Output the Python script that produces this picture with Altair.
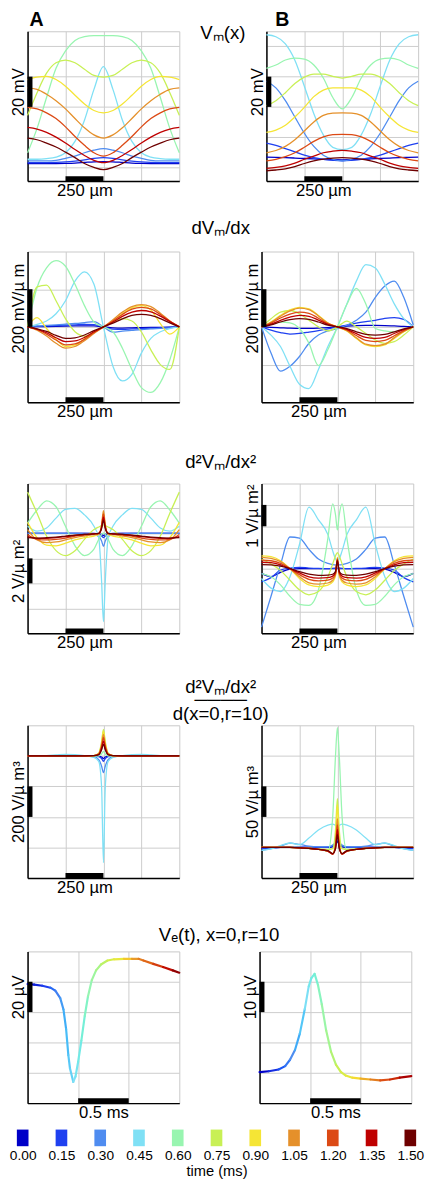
import altair as alt
import pandas as pd

FONT = "Liberation Sans"
GRID = "#cccccc"

TIMES = [0.00, 0.15, 0.30, 0.45, 0.60, 0.75, 0.90, 1.05, 1.20, 1.35, 1.50]
COLORS = ["#0000c8", "#1f40f0", "#4f8cf0", "#7fe0f5", "#98f5b0", "#c8f055",
          "#f5e535", "#e5902a", "#dc4a15", "#bf0000", "#6e0000"]
TIME_LABELS = ["0.00", "0.15", "0.30", "0.45", "0.60", "0.75", "0.90", "1.05", "1.20", "1.35", "1.50"]

X17 = [-500, -437.5, -375, -312.5, -250, -187.5, -125, -62.5, 0,
       62.5, 125, 187.5, 250, 312.5, 375, 437.5, 500]
X21 = [-500, -437.5, -375, -312.5, -250, -187.5, -125, -62.5, -31, -12, 0,
       12, 31, 62.5, 125, 187.5, 250, 312.5, 375, 437.5, 500]

# ---- Vm(x), mV ----
VM_A = [
    [2.6, 2.6, 2.6, 2.6, 2.7, 2.9, 3.3, 3.7, 3.9, 3.7, 3.3, 2.9, 2.7, 2.6, 2.6, 2.6, 2.6],
    [3.2, 3.2, 3.2, 3.3, 3.6, 4.2, 5.0, 6.0, 6.5, 6.0, 5.0, 4.2, 3.6, 3.3, 3.2, 3.2, 3.2],
    [4.3, 4.3, 4.3, 4.7, 6.0, 7.5, 9.7, 11.4, 12.4, 11.4, 9.7, 7.5, 6.0, 4.7, 4.3, 4.3, 4.3],
    [5.4, 5.4, 5.8, 6.8, 9.7, 17.2, 31.2, 51.6, 66.6, 51.6, 31.2, 17.2, 9.7, 6.8, 5.8, 5.4, 5.4],
    [9.7, 25.8, 46.2, 65.5, 77.0, 83.9, 86.4, 87.1, 87.1, 87.1, 86.4, 83.9, 77.0, 65.5, 46.2, 25.8, 9.7],
    [34.4, 49.4, 62.3, 69.2, 71.0, 69.2, 64.9, 60.8, 59.7, 60.8, 64.9, 69.2, 71.0, 69.2, 62.3, 49.4, 34.4],
    [58.1, 59.7, 60.2, 58.1, 53.7, 47.7, 41.9, 37.6, 36.1, 37.6, 41.9, 47.7, 53.7, 58.1, 60.2, 59.7, 58.1],
    [52.6, 51.6, 48.4, 44.1, 38.7, 32.3, 26.2, 21.5, 19.4, 21.5, 26.2, 32.3, 38.7, 44.1, 48.4, 51.6, 52.6],
    [39.7, 38.7, 36.1, 32.3, 26.8, 20.4, 14.6, 9.7, 7.5, 9.7, 14.6, 20.4, 26.8, 32.3, 36.1, 38.7, 39.7],
    [26.4, 25.3, 23.2, 20.0, 16.1, 11.8, 7.9, 4.7, 3.2, 4.7, 7.9, 11.8, 16.1, 20.0, 23.2, 25.3, 26.4],
    [19.4, 18.3, 16.1, 13.5, 10.1, 6.5, 2.6, 0.0, -1.5, 0.0, 2.6, 6.5, 10.1, 13.5, 16.1, 18.3, 19.4],
]
VM_B = [
    [6.8, 6.7, 6.5, 6.2, 5.9, 5.6, 5.3, 5.1, 5.0, 5.1, 5.3, 5.6, 5.9, 6.2, 6.5, 6.7, 6.8],
    [16.1, 14.6, 12.4, 10.3, 8.1, 6.5, 5.4, 4.7, 4.3, 4.7, 5.4, 6.5, 8.1, 10.3, 12.4, 14.6, 16.1],
    [57.0, 52.6, 44.1, 33.3, 22.6, 13.9, 8.1, 5.4, 4.3, 5.4, 8.1, 13.9, 22.6, 33.3, 44.1, 52.6, 57.0],
    [87.7, 86.4, 81.7, 70.9, 53.7, 35.5, 21.5, 13.3, 11.8, 13.3, 21.5, 35.5, 53.7, 70.9, 81.7, 86.4, 87.7],
    [65.5, 67.7, 71.0, 72.2, 71.6, 67.7, 59.1, 46.2, 38.7, 46.2, 59.1, 67.7, 71.6, 72.2, 71.0, 67.7, 65.5],
    [40.8, 44.1, 49.4, 55.5, 59.7, 61.7, 61.7, 60.2, 59.1, 60.2, 61.7, 61.7, 59.7, 55.5, 49.4, 44.1, 40.8],
    [23.2, 24.7, 27.9, 33.3, 39.7, 46.8, 51.1, 52.6, 52.6, 52.6, 51.1, 46.8, 39.7, 33.3, 27.9, 24.7, 23.2],
    [9.7, 11.2, 13.9, 18.3, 24.1, 30.1, 34.4, 35.9, 36.1, 35.9, 34.4, 30.1, 24.1, 18.3, 13.9, 11.2, 9.7],
    [4.3, 5.4, 7.1, 9.7, 13.3, 17.2, 20.2, 21.7, 21.9, 21.7, 20.2, 17.2, 13.3, 9.7, 7.1, 5.4, 4.3],
    [-0.6, 0.0, 1.0, 2.8, 5.4, 7.5, 9.7, 10.7, 11.2, 10.7, 9.7, 7.5, 5.4, 2.8, 1.0, 0.0, -0.6],
    [-2.2, -1.7, -0.9, 0.6, 2.6, 4.3, 5.5, 6.2, 6.5, 6.2, 5.5, 4.3, 2.6, 0.6, -0.9, -1.7, -2.2],
]

# ---- dVm/dx ----
DV_A = [
    [0, 1, 2, 3, 4, 5, 6, 5, 0, -5, -6, -5, -4, -3, -2, -1, 0],
    [0, 3, 5, 7, 9, 11, 13, 12, 0, -12, -13, -11, -9, -7, -5, -3, 0],
    [0, 5, 8, 11, 14, 18, 22, 28, 0, -28, -22, -18, -14, -11, -8, -5, 0],
    [0, 13.9, 31.3, 69.6, 139, 243, 292, 226, 0, -208.7, -287, -252, -139, -61, -26, -8.7, 0],
    [0, 208.7, 313, 351.3, 321.7, 226, 113, 26, 0, -26, -113, -226, -322, -348, -296, -174, 0],
    [0, 212, 222, 139, 43.5, -26, -48.7, -31.3, 0, 26, 43.5, 31.3, -26, -121.7, -200, -226, 0],
    [0, 48.7, -8.7, -66, -104, -97, -62.6, -26, 0, 31.3, 69.6, 101, 113, 90, 17.4, -38, 0],
    [0, -17.4, -48.7, -87, -113, -104, -73, -34.8, 0, 38.3, 78.3, 108, 118, 108, 73, 31.3, 0],
    [0, -13.9, -38.3, -69.6, -95.6, -90.4, -66, -31.3, 0, 31.3, 66, 94, 104, 95.6, 66, 31.3, 0],
    [0, -12.2, -31.3, -57.4, -78.3, -74.8, -55.7, -26, 0, 26, 55.7, 78.3, 87, 80, 57.4, 27.8, 0],
    [0, -10, -24, -45, -61, -58, -43, -20, 0, 20, 43, 61, 66, 61, 44, 21, 0],
]
DV_B = [
    [0, -3, -5, -7, -8, -8, -7, -4, 0, 4, 7, 8, 8, 7, 5, 3, 0],
    [0, -17, -30, -38, -35, -28, -20, -10, 0, 10, 20, 28, 35, 45, 49, 40, 0],
    [0, -139, -235, -209, -157, -87, -43.5, -21, -8.7, 8.7, 35, 78, 157, 217, 243, 157, 10],
    [0, -43.5, -104, -209, -304, -327, -226, -104, 0, 122, 243, 330, 313, 226, 122, 43.5, 0],
    [0, 13.9, 26, 20.9, -8.7, -87, -205, -120, 0, 120, 205, 122, -8.7, -20.9, -26, -13.9, 0],
    [0, 43.5, 78, 87, 70, 35, 0, -21, 0, 31, 0, -35, -70, -87, -78, -43.5, 0],
    [0, 26, 61, 90, 104, 96, 61, 21, 0, -21, -61, -96, -104, -96, -61, -26, 0],
    [0, 24, 57, 85, 100, 92, 58, 20, 0, -20, -58, -92, -100, -92, -57, -24, 0],
    [0, 20, 47, 68, 78, 72, 46, 16, 0, -16, -46, -72, -78, -72, -47, -20, 0],
    [0, 15, 35, 52, 61, 56, 36, 13, 0, -13, -36, -56, -61, -56, -35, -15, 0],
    [0, 11, 26, 38, 44, 40, 26, 9, 0, -9, -26, -40, -44, -40, -26, -11, 0],
]

# ---- d2Vm/dx2 ----
D2_A = [
    [0, 0, 0, 0, 0, 0, 0, 0, -0.03, -0.08, -0.16, -0.08, -0.03, 0, 0, 0, 0, 0, 0, 0, 0],
    [0, 0, 0, 0, 0, 0, 0, -0.02, -0.08, -0.2, -0.34, -0.2, -0.08, -0.02, 0, 0, 0, 0, 0, 0, 0],
    [0, 0, 0, 0, 0, 0, -0.03, -0.1, -0.25, -0.6, -1.04, -0.6, -0.25, -0.1, -0.03, 0, 0, 0, 0, 0, 0],
    [0.57, 0.18, 0.44, 1.23, 1.93, 2.01, 1.49, 0.57, -0.34, -3.86, -7.07, -3.86, -0.34, 0.57, 1.49, 2.01, 1.93, 1.23, 0.44, 0.18, 0.57],
    [0.83, 1.88, 2.61, 2.14, 0.57, -0.99, -1.77, -1.25, -0.47, -0.08, 0.05, -0.08, -0.47, -1.25, -1.77, -0.99, 0.57, 2.14, 2.61, 1.88, 0.83],
    [3.31, 1.62, -0.21, -1.38, -1.77, -1.38, -0.47, 0.31, 0.52, 0.63, 0.68, 0.63, 0.52, 0.31, -0.47, -1.38, -1.77, -1.38, -0.21, 1.62, 3.31],
    [0.89, -0.34, -0.94, -0.99, -0.78, -0.52, -0.34, -0.21, -0.08, 0.57, 1.62, 0.57, -0.08, -0.21, -0.34, -0.52, -0.78, -0.99, -0.94, -0.34, 0.89],
    [0.31, -0.52, -0.73, -0.68, -0.52, -0.34, -0.21, -0.10, -0.03, 0.70, 1.83, 0.70, -0.03, -0.10, -0.21, -0.34, -0.52, -0.68, -0.73, -0.52, 0.31],
    [-0.08, -0.47, -0.52, -0.47, -0.37, -0.21, -0.13, -0.05, 0, 0.57, 1.56, 0.57, 0, -0.05, -0.13, -0.21, -0.37, -0.47, -0.52, -0.47, -0.08],
    [-0.26, -0.39, -0.39, -0.34, -0.26, -0.16, -0.08, -0.03, 0, 0.5, 1.3, 0.5, 0, -0.03, -0.08, -0.16, -0.26, -0.34, -0.39, -0.39, -0.26],
    [-0.34, -0.37, -0.34, -0.29, -0.21, -0.13, -0.08, -0.03, 0, 0.39, 1.04, 0.39, 0, -0.03, -0.08, -0.13, -0.21, -0.29, -0.34, -0.37, -0.34],
]
D2_B = [
    [-0.2, -0.35, -0.15, 0, 0.02, 0.02, 0.02, 0.02, 0.03, 0.04, 0.05, 0.04, 0.03, 0.02, 0.02, 0.02, 0.02, 0, -0.15, -0.35, -0.2],
    [-0.6, -0.4, -0.05, 0.05, 0.08, 0.05, 0.03, 0.02, 0.02, 0.02, 0.02, 0.02, 0.02, 0.02, 0.03, 0.05, 0.08, 0.05, -0.05, -0.4, -0.6],
    [-2.71, -1.27, 0.21, 1.5, 1.45, 0.92, 0.47, 0.27, 0.21, 0.20, 0.20, 0.20, 0.21, 0.27, 0.47, 0.92, 1.45, 1.5, 0.21, -1.27, -2.71],
    [-0.44, -0.89, -1.05, -0.36, 1.15, 2.9, 2.3, 1.61, 0.85, 0.47, 0.36, 0.47, 0.85, 1.61, 2.3, 2.9, 1.15, -0.36, -1.05, -0.89, -0.44],
    [-0.21, -0.36, -0.74, -1.27, -1.65, -1.70, -0.97, 1.45, 3.05, 2.52, 1.83, 2.52, 3.05, 1.45, -0.97, -1.70, -1.65, -1.27, -0.74, -0.36, -0.21],
    [0.47, 0.24, -0.06, -0.52, -0.97, -1.20, -1.05, -0.36, 0.24, 0.62, 0.77, 0.62, 0.24, -0.36, -1.05, -1.20, -0.97, -0.52, -0.06, 0.24, 0.47],
    [0.62, 0.58, 0.39, 0.02, -0.44, -0.74, -0.82, -0.75, -0.6, -0.3, 0.55, -0.3, -0.6, -0.75, -0.82, -0.74, -0.44, 0.02, 0.39, 0.58, 0.62],
    [0.55, 0.50, 0.35, 0.02, -0.36, -0.64, -0.70, -0.65, -0.52, -0.25, 0.52, -0.25, -0.52, -0.65, -0.70, -0.64, -0.36, 0.02, 0.35, 0.50, 0.55],
    [0.42, 0.39, 0.27, 0.02, -0.26, -0.48, -0.55, -0.52, -0.42, -0.2, 0.47, -0.2, -0.42, -0.52, -0.55, -0.48, -0.26, 0.02, 0.27, 0.39, 0.42],
    [0.32, 0.30, 0.20, 0.02, -0.18, -0.36, -0.42, -0.40, -0.33, -0.15, 0.42, -0.15, -0.33, -0.40, -0.42, -0.36, -0.18, 0.02, 0.20, 0.30, 0.32],
    [0.21, 0.20, 0.14, 0.02, -0.12, -0.24, -0.29, -0.28, -0.24, -0.1, 0.38, -0.1, -0.24, -0.28, -0.29, -0.24, -0.12, 0.02, 0.14, 0.20, 0.21],
]

# ---- d2Vm/dx2 / d(x=0,r=10) ----
R_A = [
    [0, 0, 0, 0, 0, 0, 0, 0, -2, -8, -18, -8, -2, 0, 0, 0, 0, 0, 0, 0, 0],
    [0, 0, 0, 0, 0, 0, 0, -1, -6, -18, -36, -18, -6, -1, 0, 0, 0, 0, 0, 0, 0],
    [0, 0, 0, 0, 0, 0, -1, -5, -25, -68, -110, -68, -25, -5, -1, 0, 0, 0, 0, 0, 0],
    [0, 0, 2, 6, 10, 8, 2, -10, -36, -207, -700, -207, -36, -10, 2, 8, 10, 6, 2, 0, 0],
    [0, 0, 0, 0, 0, -2, -4, -3, 0, 12, 29, 12, 0, -3, -4, -2, 0, 0, 0, 0, 0],
    [0, 0, 0, 0, 0, 0, 0, 2, 18, 93, 174, 93, 18, 2, 0, 0, 0, 0, 0, 0, 0],
    [0, 0, 0, 0, 0, 0, 0, 2, 16, 82, 161, 82, 16, 2, 0, 0, 0, 0, 0, 0, 0],
    [0, 0, 0, 0, 0, 0, 0, 2, 14, 71, 140, 71, 14, 2, 0, 0, 0, 0, 0, 0, 0],
    [0, 0, 0, 0, 0, 0, 0, 2, 12, 61, 119, 61, 12, 2, 0, 0, 0, 0, 0, 0, 0],
    [0, 0, 0, 0, 0, 0, 0, 1, 9, 50, 97, 50, 9, 1, 0, 0, 0, 0, 0, 0, 0],
    [0, 0, 0, 0, 0, 0, 0, 1, 7, 39, 76, 39, 7, 1, 0, 0, 0, 0, 0, 0, 0],
]
R_B = [
    [-1, -0.5, 0, 0, 0, 0, 0, 0, 1, 4, 10, 4, 1, 0, 0, 0, 0, 0, 0, -0.5, -1],
    [-2, -1, 0, 0.5, 0.5, 0.5, 0.5, 1, 3, 7, 13, 7, 3, 1, 0.5, 0.5, 0.5, 0.5, 0, -1, -2],
    [-4.6, -2, 2, 7, 5, 2, 1, 1, 4, 9, 15, 9, 4, 1, 1, 2, 5, 7, 2, -2, -4.6],
    [-4.6, -2.4, 3, 7.3, 4.6, 15.3, 28.7, 36.7, 38.3, 36, 34, 36, 38.3, 36.7, 28.7, 15.3, 4.6, 7.3, 3, -2.4, -4.6],
    [0, 0, 0, 0, -1, -2, -3, -6, 50, 152, 196, 152, 50, -6, -3, -2, -1, 0, 0, 0, 0],
    [0, 0, 0, 0, 0, -1, -2, -3.4, -2, 30, 80, 30, -2, -3.4, -2, -1, 0, 0, 0, 0, 0],
    [0, 0, 0, 0, -0.5, -1.5, -3, -6, -10, 12, 70, 12, -10, -6, -3, -1.5, -0.5, 0, 0, 0, 0],
    [0, 0, 0, 0, -0.5, -1.5, -3, -6, -11, 5, 47, 5, -11, -6, -3, -1.5, -0.5, 0, 0, 0, 0],
    [0, 0, 0, 0, -0.5, -1.5, -3, -6, -11, 2, 37, 2, -11, -6, -3, -1.5, -0.5, 0, 0, 0, 0],
    [0, 0, 0, 0, -0.5, -1.5, -3, -6, -11, 0, 29, 0, -11, -6, -3, -1.5, -0.5, 0, 0, 0, 0],
    [0, 0, 0, 0, -0.5, -1.5, -3, -5, -10, -2, 21, -2, -10, -5, -3, -1.5, -0.5, 0, 0, 0, 0],
]

# ---- Ve(t), microvolts ----
T_A = [0.0, 0.065, 0.145, 0.226, 0.274, 0.323, 0.355, 0.381, 0.403, 0.419, 0.452, 0.474, 0.5,
       0.532, 0.565, 0.597, 0.635, 0.677, 0.726, 0.79, 0.855, 0.952, 1.032, 1.097, 1.145,
       1.242, 1.339, 1.435, 1.5]
VE_A = [18.5, 18.1, 17.4, 16.1, 14.2, 9.2, 1.7, -11.2, -28.4, -37.0, -46.0, -42.4, -32.7,
        -18.7, -2.6, 10.3, 21.1, 27.5, 31.4, 34.0, 34.8, 35.1, 35.1, 35.1, 34.0,
        31.8, 29.7, 27.5, 26.0]
T_B = [0.0, 0.091, 0.188, 0.253, 0.301, 0.35, 0.398, 0.447, 0.486, 0.512, 0.544, 0.577, 0.615,
       0.658, 0.706, 0.755, 0.803, 0.852, 0.917, 0.998, 1.095, 1.192, 1.289, 1.386, 1.5]
VE_B = [0.2, 0.5, 1.1, 2.2, 4.3, 7.5, 12.9, 21.0, 28.5, 31.2, 32.6, 29.0, 22.6,
        14.0, 7.0, 2.7, 0.3, -0.9, -1.6, -1.9, -2.2, -2.5, -2.2, -1.6, -1.1]

CSCALE = alt.Scale(domain=TIMES, range=COLORS, type="linear")
W = 155
AX_FS = 17
TI_FS = 19
SP = 61


def axes(xdom, xgrid, xbar, xtitle, ydom, ygrid, ybar, ytitle, H):
    xc = W * ((xbar[0] + xbar[1]) / 2 - xdom[0]) / (xdom[1] - xdom[0])
    yc = H * (ydom[1] - (ybar[0] + ybar[1]) / 2) / (ydom[1] - ydom[0])
    xaxis = alt.Axis(values=xgrid, grid=True, labels=False, ticks=False,
                     domainColor="black", domainWidth=1.5, gridColor=GRID, gridWidth=1,
                     title=xtitle, titleX=xc, titleAlign="center", titleBaseline="top",
                     titlePadding=2, titleFont=FONT, titleFontSize=AX_FS,
                     titleFontWeight="normal", titleColor="black")
    yaxis = alt.Axis(values=ygrid, grid=True, labels=False, ticks=False,
                     domainColor="black", domainWidth=1.5, gridColor=GRID, gridWidth=1,
                     title=ytitle, titleX=-4, titleY=yc, titleAngle=270,
                     titleAlign="center", titleBaseline="alphabetic",
                     titleFont=FONT, titleFontSize=AX_FS, titleFontWeight="normal",
                     titleColor="black")
    xs = alt.Scale(domain=xdom, nice=False, zero=False)
    ys = alt.Scale(domain=ydom, nice=False, zero=False)
    return xs, ys, xaxis, yaxis


def bars(xs, ys, xaxis, yaxis, xbar, ybar, H):
    yb = alt.Chart(pd.DataFrame({"y": [ybar[0]], "y2": [ybar[1]]})).mark_rect(color="black").encode(
        x=alt.value(0), x2=alt.value(5),
        y=alt.Y("y:Q", scale=ys, axis=yaxis), y2="y2:Q")
    xb = alt.Chart(pd.DataFrame({"x": [xbar[0]], "x2": [xbar[1]]})).mark_rect(color="black").encode(
        x=alt.X("x:Q", scale=xs, axis=xaxis), x2="x2:Q",
        y=alt.value(H - 5), y2=alt.value(H))
    return yb, xb


def space_panel(xvals, curves, ydom, ygrid, ybar, ytitle, H, title=None):
    xdom, xgrid, xbar, xtitle = [-500, 500], [-250, 0, 250], [-250, 0], "250 \u00b5m"
    xs, ys, xaxis, yaxis = axes(xdom, xgrid, xbar, xtitle, ydom, ygrid, ybar, ytitle, H)
    rows = [{"x": x, "y": y, "t": t} for t, ys_ in zip(TIMES, curves) for x, y in zip(xvals, ys_)]
    lines = alt.Chart(pd.DataFrame(rows)).mark_line(strokeWidth=1.3, interpolate="monotone").encode(
        x=alt.X("x:Q", scale=xs, axis=xaxis),
        y=alt.Y("y:Q", scale=ys, axis=yaxis),
        color=alt.Color("t:Q", scale=CSCALE, legend=None),
        detail="t:N")
    yb, xb = bars(xs, ys, xaxis, yaxis, xbar, ybar, H)
    ch = alt.layer(lines, yb, xb).properties(width=W, height=H)
    if title is not None:
        ch = ch.properties(title=title)
    return ch


def time_panel(ts, vs, ydom, ygrid, ybar, ytitle, H):
    xdom, xgrid, xbar, xtitle = [0, 1.5], [0.5, 1.0], [0.5, 1.0], "0.5 ms"
    xs, ys, xaxis, yaxis = axes(xdom, xgrid, xbar, xtitle, ydom, ygrid, ybar, ytitle, H)
    seg = pd.DataFrame({"x": ts[:-1], "x2": ts[1:], "y": vs[:-1], "y2": vs[1:], "t": ts[:-1]})
    lines = alt.Chart(seg).mark_rule(strokeWidth=2.2, strokeCap="round").encode(
        x=alt.X("x:Q", scale=xs, axis=xaxis), x2="x2:Q",
        y=alt.Y("y:Q", scale=ys, axis=yaxis), y2="y2:Q",
        color=alt.Color("t:Q", scale=CSCALE, legend=None))
    yb, xb = bars(xs, ys, xaxis, yaxis, xbar, ybar, H)
    return alt.layer(lines, yb, xb).properties(width=W, height=H)


def row_title(text, lead, offset, **kw):
    return alt.TitleParams(text=["", text], lineHeight=lead, fontSize=TI_FS, font=FONT,
                           fontWeight="normal", anchor="middle", baseline="top",
                           offset=offset, dx=8, color="black", **kw)


PT = dict(anchor="start", frame="group", fontSize=20, fontWeight="bold", font=FONT,
          offset=1, color="black", baseline="top")

# middle cell of the first row: holds the "Vm(x)" heading between the panels
mid = alt.Chart(pd.DataFrame({"v": [0]})).mark_point(opacity=0).encode(
    x=alt.value(0), y=alt.value(0)
).properties(
    width=SP, height=1, view=alt.ViewBackground(stroke="transparent"),
    title=alt.TitleParams("V\u2098(x)", orient="bottom", anchor="middle", baseline="alphabetic",
                          offset=5, dx=6, fontSize=TI_FS, font=FONT, fontWeight="normal",
                          color="black"))

row1 = alt.hconcat(
    space_panel(X17, VM_A, [-9, 90], [0, 20, 40, 60, 80], [40, 60], "20 mV", 153,
                title=alt.TitleParams("A", dx=2, **PT)),
    mid,
    space_panel(X17, VM_B, [-9, 90], [0, 20, 40, 60, 80], [40, 60], "20 mV", 153,
                title=alt.TitleParams("B", dx=9, **PT)),
    spacing=0,
)

row2 = alt.hconcat(
    space_panel(X17, DV_A, [-400, 400], [-200, 0, 200], [0, 200], "200 mV/\u00b5 m", 154),
    space_panel(X17, DV_B, [-400, 400], [-200, 0, 200], [0, 200], "200 mV/\u00b5 m", 154),
    spacing=SP,
).properties(title=row_title("dV\u2098/dx", 13, 13))

row3 = alt.hconcat(
    space_panel(X21, D2_A, [-8, 4], [-6, -4, -2, 0, 2], [-4, -2], "2 V/\u00b5 m\u00b2", 153),
    space_panel(X21, D2_B, [-3, 4], [-2, -1, 0, 1, 2, 3], [2, 3], "1 V/\u00b5 m\u00b2", 153),
    spacing=SP,
).properties(title=row_title("d\u00b2V\u2098/dx\u00b2", 26, 11))

row4 = alt.hconcat(
    space_panel(X21, R_A, [-800, 200], [-600, -400, -200, 0], [-400, -200], "200 V/\u00b5 m\u00b3", 156),
    space_panel(X21, R_B, [-50, 200], [0, 50, 100, 150], [50, 100], "50 V/\u00b5 m\u00b3", 156),
    spacing=SP,
).properties(title=row_title("d\u00b2V\u2098/dx\u00b2", 20, 1,
                             subtitle=["\u2500\u2500\u2500\u2500", "d(x=0,r=10)"],
                             subtitleFontSize=TI_FS, subtitleFont=FONT, subtitleColor="black",
                             subtitleLineHeight=14, subtitlePadding=-6))

row5 = alt.hconcat(
    time_panel(T_A, VE_A, [-60, 40], [-40, -20, 0, 20], [0, 20], "20 \u00b5V", 155),
    time_panel(T_B, VE_B, [-10, 40], [0, 10, 20, 30], [20, 30], "10 \u00b5V", 155),
    spacing=SP,
).properties(title=row_title("V\u2091(t), x=0,r=10", 23, 6))

leg_df = pd.DataFrame({"lab": TIME_LABELS, "t": TIMES})
RECT_PATH = "M-0.7,-1L0.7,-1L0.7,1L-0.7,1Z"
legend = alt.Chart(leg_df).mark_point(shape=RECT_PATH, size=289, filled=True, opacity=1,
                                      strokeWidth=0).encode(
    x=alt.X("lab:O", sort=None, scale=alt.Scale(type="point", padding=0, range=[-5, 391]),
            axis=alt.Axis(title="time (ms)", domain=False, ticks=False, labelAngle=0,
                          labelFont=FONT, labelFontSize=14, labelPadding=3, labelColor="black",
                          titleFont=FONT, titleFontSize=15, titleFontWeight="normal",
                          titlePadding=1, titleColor="black", grid=False)),
    color=alt.Color("t:Q", scale=CSCALE, legend=None),
).properties(width=386, height=17, view=alt.ViewBackground(stroke="transparent"))

chart = alt.vconcat(row1, row2, row3, row4, row5, legend, spacing=7).properties(
    padding={"left": 0, "top": -11, "right": 0, "bottom": 0}
).configure_view(stroke="#c8c8c8", strokeWidth=1)

chart.save("out.html", embed_options={"renderer": "svg", "actions": False})
